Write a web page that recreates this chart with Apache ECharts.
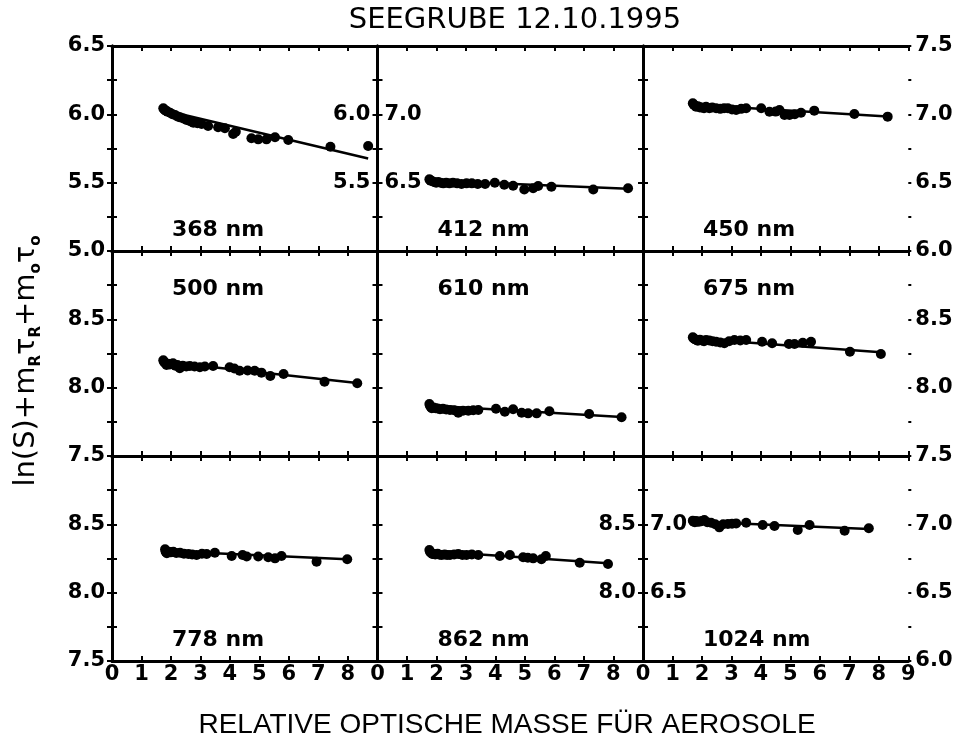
<!DOCTYPE html>
<html>
<head>
<meta charset="utf-8">
<script src="https://cdn.jsdelivr.net/npm/echarts@6/dist/echarts.min.js"></script>
<style>
html,body{margin:0;padding:0;background:#fff;}
#chart{width:963px;height:745px;}
</style>
</head>
<body>
<div id="chart"></div>
<script>
// ---------------- DATA ----------------
const chartTitle = 'SEEGRUBE 12.10.1995';
const xTitle = 'RELATIVE OPTISCHE MASSE FÜR AEROSOLE';
const panelNames = ['368 nm', '412 nm', '450 nm', '500 nm', '610 nm', '675 nm', '778 nm', '862 nm', '1024 nm'];
const yMins = [5.0, 6.0, 6.0, 7.5, 7.5, 7.5, 7.5, 7.5, 6.0];
const ySpan = 1.5;
const xTicks = [0, 1, 2, 3, 4, 5, 6, 7, 8, 9];

const x368 = [1.74,1.77,1.80,1.83,1.88,1.97,2.05,2.14,2.22,2.31,2.42,2.53,2.65,2.76,2.90,3.04,3.26,3.60,3.83,4.11,4.20,4.73,4.96,5.24,5.53,5.98,7.41,8.69];
const y368 = [6.044,6.035,6.03,6.027,6.02,6.012,6.0,5.995,5.985,5.978,5.97,5.959,5.95,5.939,5.935,5.929,5.915,5.905,5.898,5.856,5.873,5.825,5.817,5.817,5.832,5.812,5.763,5.768];
const fit368 = [[1.74, 6.032], [8.69, 5.677]];

const x412 = [1.76,1.78,1.80,1.86,1.92,1.99,2.06,2.14,2.23,2.33,2.44,2.56,2.70,2.85,3.02,3.20,3.40,3.65,3.98,4.30,4.60,4.98,5.28,5.45,5.90,7.32,8.50];
const y412 = [6.525,6.52,6.515,6.51,6.505,6.50,6.505,6.50,6.495,6.50,6.495,6.50,6.495,6.49,6.495,6.495,6.49,6.49,6.50,6.485,6.478,6.45,6.459,6.476,6.47,6.45,6.459];
const fit412 = [[1.76, 6.515], [8.50, 6.455]];

const x450 = [1.69,1.72,1.76,1.80,1.86,1.93,2.00,2.07,2.14,2.25,2.35,2.48,2.62,2.75,2.88,3.02,3.16,3.33,3.50,4.01,4.29,4.50,4.63,4.80,4.97,5.15,5.36,5.81,7.17,8.30];
const y450 = [7.081,7.07,7.065,7.056,7.06,7.05,7.05,7.045,7.056,7.045,7.05,7.044,7.04,7.045,7.044,7.035,7.032,7.04,7.044,7.044,7.019,7.02,7.032,6.995,6.995,7.0,7.012,7.027,7.002,6.983];
const fit450 = [[1.69, 7.07], [8.30, 6.985]];

const x500 = [1.74,1.76,1.80,1.85,1.90,1.96,2.07,2.15,2.22,2.30,2.40,2.52,2.64,2.80,2.98,3.15,3.43,3.99,4.15,4.33,4.60,4.84,5.07,5.37,5.82,7.21,8.32];
const y500 = [8.20,8.19,8.18,8.166,8.175,8.17,8.178,8.16,8.165,8.142,8.16,8.155,8.159,8.155,8.149,8.155,8.159,8.149,8.14,8.124,8.125,8.124,8.11,8.085,8.10,8.044,8.032];
const fit500 = [[1.74, 8.19], [8.32, 8.035]];

const x610 = [1.76,1.78,1.80,1.84,1.90,1.97,2.04,2.12,2.22,2.33,2.46,2.60,2.74,2.90,3.08,3.25,3.42,4.02,4.32,4.60,4.89,5.11,5.40,5.83,7.18,8.28];
const y610 = [7.88,7.87,7.86,7.849,7.855,7.85,7.848,7.842,7.845,7.84,7.837,7.835,7.817,7.832,7.832,7.835,7.837,7.846,7.824,7.842,7.817,7.812,7.812,7.827,7.807,7.783];
const fit610 = [[1.76, 7.87], [8.28, 7.785]];

const x675 = [1.69,1.72,1.76,1.80,1.86,1.93,2.00,2.07,2.14,2.25,2.36,2.48,2.62,2.76,2.92,3.10,3.30,3.50,4.04,4.38,4.95,5.14,5.42,5.70,7.02,8.07];
const y675 = [8.368,8.36,8.355,8.35,8.344,8.35,8.345,8.34,8.349,8.345,8.34,8.336,8.33,8.325,8.34,8.349,8.345,8.349,8.336,8.325,8.32,8.32,8.329,8.336,8.263,8.246];
const fit675 = [[1.69, 8.36], [8.07, 8.26]];

const x778 = [1.80,1.82,1.86,1.92,1.99,2.08,2.18,2.31,2.44,2.59,2.72,2.87,3.05,3.21,3.49,4.06,4.43,4.57,4.96,5.30,5.53,5.75,6.94,7.98];
const y778 = [8.317,8.30,8.288,8.30,8.295,8.30,8.29,8.292,8.285,8.283,8.28,8.276,8.285,8.283,8.292,8.268,8.276,8.264,8.264,8.259,8.251,8.268,8.227,8.244];
const fit778 = [[1.80, 8.305], [7.98, 8.245]];

const x862 = [1.76,1.78,1.82,1.86,1.90,1.96,2.04,2.11,2.18,2.28,2.36,2.46,2.60,2.74,2.88,3.02,3.20,3.42,4.15,4.49,4.94,5.10,5.28,5.56,5.71,6.86,7.82];
const y862 = [8.312,8.30,8.29,8.283,8.283,8.28,8.285,8.278,8.276,8.28,8.275,8.276,8.28,8.283,8.275,8.276,8.28,8.276,8.268,8.276,8.259,8.255,8.251,8.244,8.268,8.219,8.21];
const fit862 = [[1.76, 8.305], [7.82, 8.215]];

const x1024 = [1.69,1.72,1.76,1.80,1.86,1.92,2.00,2.08,2.18,2.31,2.45,2.59,2.72,2.88,3.02,3.16,3.50,4.06,4.46,5.25,5.65,6.84,7.66];
const y1024 = [7.027,7.02,7.015,7.025,7.019,7.02,7.025,7.032,7.015,7.012,7.0,6.978,7.0,7.002,7.005,7.007,7.012,6.995,6.988,6.958,6.995,6.953,6.971];
const fit1024 = [[1.69, 7.02], [7.66, 6.965]];

// ---------------- LAYOUT / STYLE ----------------
const pxs = [x368, x412, x450, x500, x610, x675, x778, x862, x1024];
const pys = [y368, y412, y450, y500, y610, y675, y778, y862, y1024];
const fits = [fit368, fit412, fit450, fit500, fit610, fit675, fit778, fit862, fit1024];

const colLeft = [112, 377.5, 643];
const colW = 265.3;
const rowTop = [46, 251, 456];
const rowH = 205;

const leftCfg = [
  {v: [5.0, 5.5, 6.0, 6.5], inside: false},
  {v: [6.5, 7.0], inside: true},
  {v: [], inside: false},
  {v: [7.5, 8.0, 8.5], inside: false},
  {v: [], inside: false},
  {v: [], inside: false},
  {v: [7.5, 8.0, 8.5], inside: false},
  {v: [], inside: false},
  {v: [6.5, 7.0], inside: true}
];
const rightCfg = [
  {v: [5.5, 6.0], inside: true},
  {v: [], inside: false},
  {v: [6.0, 6.5, 7.0, 7.5], inside: false},
  {v: [], inside: false},
  {v: [], inside: false},
  {v: [8.0, 8.5], inside: false},
  {v: [], inside: false},
  {v: [8.0, 8.5], inside: true},
  {v: [6.0, 6.5, 7.0, 7.5], inside: false}
];

const FONT = 'DejaVu Sans';
const lineStyle = {color: '#000', width: 3};
const tickStyle = {show: true, inside: true, length: 5, lineStyle: {color: '#000', width: 2}};
const outTick = {show: true, inside: false, length: 3, lineStyle: {color: '#000', width: 2}};
const labelFont = {color: '#000', fontFamily: FONT, fontWeight: 'bold', fontSize: 21};

const grids = [], xAxes = [], yAxes = [], series = [], graphics = [];

for (let i = 0; i < 9; i++) {
  const r = Math.floor(i / 3), c = i % 3;
  grids.push({left: colLeft[c], top: rowTop[r], width: colW, height: rowH, containLabel: false});
  const bottomRow = r === 2;
  const lastCol = c === 2;
  xAxes.push({
    type: 'value', gridIndex: i, position: 'bottom', min: 0, max: 9, interval: 1,
    axisLine: {show: true, lineStyle: lineStyle}, axisTick: tickStyle, splitLine: {show: false},
    axisLabel: Object.assign({}, labelFont, {
      show: bottomRow, margin: 3, showMinLabel: true, showMaxLabel: true, fontSize: 21,
      formatter: (v) => (v === 9 && !lastCol) ? '' : String(xTicks[Math.round(v)])
    })
  });
  xAxes.push({
    type: 'value', gridIndex: i, position: 'top', min: 0, max: 9, interval: 1,
    axisLine: {show: true, lineStyle: lineStyle}, axisTick: tickStyle, splitLine: {show: false},
    axisLabel: {show: false}
  });
  const mk = (cfg, pos) => ({
    type: 'value', gridIndex: i, position: pos, min: yMins[i], max: yMins[i] + ySpan, interval: 0.25,
    axisLine: {show: true, lineStyle: lineStyle}, axisTick: tickStyle, splitLine: {show: false},
    axisLabel: Object.assign({}, labelFont, {
      show: cfg.v.length > 0, inside: cfg.inside, margin: 7, showMinLabel: true, showMaxLabel: true,
      formatter: (v) => cfg.v.some(s => Math.abs(s - v) < 1e-6) ? v.toFixed(1) : ''
    })
  });
  const yIdx = yAxes.length;
  yAxes.push(mk(leftCfg[i], 'left'));
  yAxes.push(mk(rightCfg[i], 'right'));
  if (c === 0 || c === 2) {
    yAxes.push({
      type: 'value', gridIndex: i, position: c === 0 ? 'left' : 'right',
      min: yMins[i], max: yMins[i] + ySpan, interval: 0.25,
      axisLine: {show: false}, axisTick: outTick, axisLabel: {show: false}, splitLine: {show: false}
    });
  }

  series.push({
    type: 'scatter', xAxisIndex: 2 * i, yAxisIndex: yIdx,
    data: pxs[i].map((x, k) => [x, pys[i][k]]),
    symbol: 'circle', symbolSize: 10, itemStyle: {color: '#000', opacity: 1}, z: 3
  });
  series.push({
    type: 'line', xAxisIndex: 2 * i, yAxisIndex: yIdx,
    data: fits[i], showSymbol: false, symbol: 'none',
    lineStyle: {color: '#000', width: 2.5}, z: 2
  });

  const labelY = r === 1 ? rowTop[r] + 40 : rowTop[r] + rowH - 19;
  graphics.push({
    type: 'text', left: colLeft[c] + 60, top: labelY - 13,
    style: {text: panelNames[i], fill: '#000', font: 'bold 22px "' + FONT + '"'}
  });
}

graphics.push({
  type: 'text', x: 515, y: 20,
  style: {text: chartTitle, fill: '#000', font: '29px "' + FONT + '"', align: 'center', verticalAlign: 'middle'}
});
graphics.push({
  type: 'text', x: 507, y: 725,
  style: {text: xTitle, fill: '#000', font: '28px "Liberation Sans"', align: 'center', verticalAlign: 'middle'}
});
graphics.push({
  type: 'text', x: 26, y: 361, rotation: Math.PI / 2,
  style: {
    text: '{a|ln(S)+m}{s|R}{a|τ}{s|R}{a|+m}{s|o}{a|τ}{s|o}',
    align: 'center', verticalAlign: 'middle', fill: '#000',
    rich: {
      a: {fontFamily: FONT, fontSize: 29, lineHeight: 36, fill: '#000', verticalAlign: 'middle'},
      s: {fontFamily: FONT, fontSize: 15, fontWeight: 'bold', lineHeight: 16, fill: '#000', verticalAlign: 'bottom'}
    }
  }
});

const chart = echarts.init(document.getElementById('chart'), null, {renderer: 'canvas'});
chart.setOption({
  animation: false,
  backgroundColor: '#fff',
  grid: grids,
  xAxis: xAxes,
  yAxis: yAxes,
  series: series,
  graphic: graphics
});
</script>
</body>
</html>
